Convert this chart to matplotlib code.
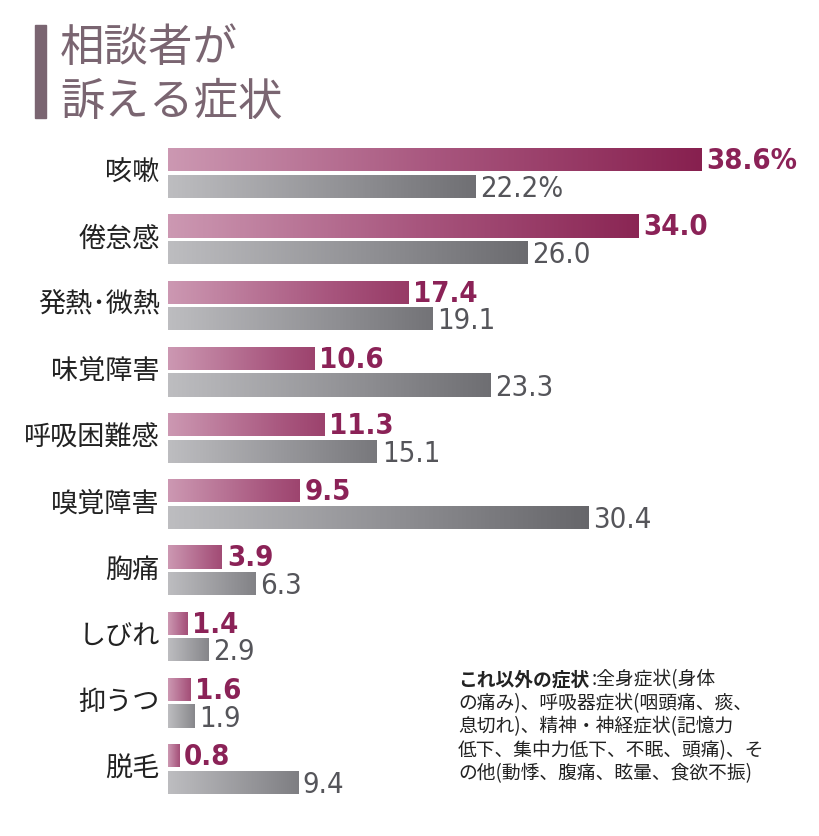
import numpy as np
import matplotlib
matplotlib.use("Agg")
import matplotlib.pyplot as plt
from matplotlib import font_manager
from matplotlib.colors import LinearSegmentedColormap

# --- data ---
symptoms = ["咳嗽", "倦怠感", "発熱･微熱", "味覚障害", "呼吸困難感",
            "嗅覚障害", "胸痛", "しびれ", "抑うつ", "脱毛"]
pink_vals = [38.6, 34.0, 17.4, 10.6, 11.3, 9.5, 3.9, 1.4, 1.6, 0.8]
gray_vals = [22.2, 26.0, 19.1, 23.3, 15.1, 30.4, 6.3, 2.9, 1.9, 9.4]

TITLE = "相談者が\n訴える症状"
NOTE_HEAD = "これ以外の症状"
NOTE_BODY = (":全身症状(身体\n"
             "の痛み)、呼吸器症状(咽頭痛、痰、\n"
             "息切れ)、精神・神経症状(記憶力\n"
             "低下、集中力低下、不眠、頭痛)、そ\n"
             "の他(動悸、腹痛、眩暈、食欲不振)")

CJK = ["Noto Sans CJK JP", "DejaVu Sans"]
condensed = [f for f in font_manager.fontManager.ttflist
             if f.name == "DejaVu Sans" and f.stretch == "condensed"]
if condensed:
    NUM = dict(family="DejaVu Sans", fontstretch="condensed")
    NUM_SIZE = 21
else:
    NUM = dict(family="Liberation Sans")
    NUM_SIZE = 21

TITLE_C = "#7a6571"
PINK_TXT = "#8b2257"
GRAY_TXT = "#55555a"
pink_cmap = LinearSegmentedColormap.from_list("pk", ["#cc98b2", "#a8567e", "#87204f"])
gray_cmap = LinearSegmentedColormap.from_list("gy", ["#bdbdc0", "#8e8e92", "#5d5d61"])

W, H = 820, 836
fig = plt.figure(figsize=(W / 100, H / 100), dpi=100)
fig.patch.set_facecolor("white")

# bar area: x=0 at px 168, 13.83 px per unit; group pitch 66.2 px
x_max = 50
ax = fig.add_axes([168 / W, 1 - 802 / H, x_max * 13.83 / W, 662 / H])
ax.axis("off")

pos = np.arange(len(symptoms))
off, bh = 0.2, 0.35
vmax = max(pink_vals)


def fill_gradient(bars, vals, cmap):
    for b, v in zip(bars, vals):
        b.set_facecolor("none")
        b.set_edgecolor("none")
        x0, y0 = b.get_x(), b.get_y()
        w, h = b.get_width(), b.get_height()
        end = 0.55 + 0.45 * v / vmax
        grad = np.linspace(0, end, 256).reshape(1, -1)
        im = ax.imshow(grad, extent=[x0, x0 + w, y0 + h, y0], aspect="auto",
                       cmap=cmap, vmin=0, vmax=1, zorder=2)
        im.set_clip_path(b)


pink_bars = ax.barh(pos - off, pink_vals, height=bh)
gray_bars = ax.barh(pos + off, gray_vals, height=bh)
fill_gradient(pink_bars, pink_vals, pink_cmap)
fill_gradient(gray_bars, gray_vals, gray_cmap)
ax.set_xlim(0, x_max)
ax.set_ylim(9.5, -0.5)

for i, (p, g) in enumerate(zip(pink_vals, gray_vals)):
    ptxt = f"{p:.1f}%" if i == 0 else f"{p:.1f}"
    gtxt = f"{g:.1f}%" if i == 0 else f"{g:.1f}"
    ax.text(p + 0.35, i - off + 0.02, ptxt, ha="left", va="center",
            fontsize=NUM_SIZE, color=PINK_TXT, fontweight="bold", **NUM)
    ax.text(g + 0.35, i + off + 0.04, gtxt, ha="left", va="center",
            fontsize=NUM_SIZE, color=GRAY_TXT, **NUM)
    ax.text(-0.6, i, symptoms[i], ha="right", va="center",
            fontsize=19.5, color="#222222", family=CJK)

# title with accent bar
fig.patches.append(plt.Rectangle((35 / W, 1 - 118 / H), 11 / W, 93 / H,
                                 transform=fig.transFigure, color=TITLE_C))
fig.text(60 / W, 1 - 75 / H, TITLE, ha="left", va="center", fontsize=32,
         color=TITLE_C, family=CJK, linespacing=1.22)

# footnote
FS = 13.5
head = fig.text(458 / W, 1 - 680 / H, NOTE_HEAD, ha="left", va="center",
                fontsize=FS, fontweight="bold", color="#222222", family=CJK)
body_lines = NOTE_BODY.split("\n")
fig.canvas.draw()
bb = head.get_window_extent()
fig.text((bb.x1 + 2) / W, 1 - 680 / H, body_lines[0], ha="left", va="center",
         fontsize=FS, color="#222222", family=CJK)
for k, line in enumerate(body_lines[1:], start=1):
    fig.text(458 / W, 1 - (680 + 23.5 * k) / H, line, ha="left", va="center",
             fontsize=FS, color="#222222", family=CJK)

fig.savefig("out.png", dpi=100, facecolor="white")
